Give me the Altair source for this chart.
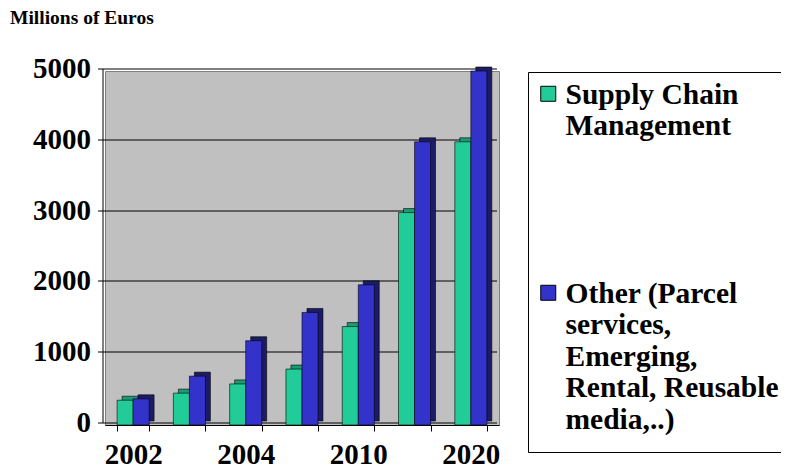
import json
import altair as alt
import pandas as pd

# ---- data ----
years = ["2002", "2003", "2004", "2005", "2010", "2015", "2020"]
shown_years = ["2002", "2004", "2010", "2020"]
series = [
    "Supply Chain Management",
    "Other (Parcel services, Emerging, Rental, Reusable media,..)",
]
scm_values = [350, 450, 580, 790, 1390, 3000, 4000]
other_values = [370, 690, 1190, 1590, 1980, 4000, 5000]
legend_lines = [
    ["Supply Chain", "Management"],
    ["Other (Parcel", "services,", "Emerging,", "Rental, Reusable", "media,..)"],
]
y_ticks = [0, 1000, 2000, 3000, 4000, 5000]

front_colors = ["#22CC99", "#3333CC"]
depth_colors = ["#1C9A74", "#1C1C66"]

df = pd.DataFrame({
    "year": years + years,
    "series": [series[0]] * len(years) + [series[1]] * len(years),
    "value": scm_values + other_values,
})

FONT = "Liberation Serif"

x_label_expr = (
    f"indexof({json.dumps(shown_years)}, datum.label) >= 0 ? datum.label : ''"
)
legend_label_expr = (
    f"datum.label == {json.dumps(series[0])} ? {json.dumps(legend_lines[0])} : "
    f"{json.dumps(legend_lines[1])}"
)

base = alt.Chart(df).encode(
    x=alt.X(
        "year:N",
        sort=years,
        scale=alt.Scale(paddingInner=0.43, paddingOuter=0.215),
        axis=alt.Axis(
            title=None,
            labelAngle=0,
            tickBand="extent",
            labelExpr=x_label_expr,
            labelOverlap=False,
            labelFont=FONT,
            labelFontWeight="bold",
            labelFontSize=29,
            labelColor="black",
            labelPadding=9,
            tickSize=6,
            tickColor="black",
            domainColor="black",
            grid=False,
        ),
    ),
    y=alt.Y(
        "value:Q",
        scale=alt.Scale(domain=[0, 5000], nice=False),
        axis=alt.Axis(
            values=y_ticks,
            format="d",
            labelFont=FONT,
            labelFontWeight="bold",
            labelFontSize=29,
            labelColor="black",
            labelPadding=7,
            tickSize=5,
            tickColor="black",
            domainColor="black",
            grid=True,
            gridColor="black",
            gridWidth=1,
            translate=-2,
            title="Millions of Euros",
            titleAngle=0,
            titleX=-93,
            titleY=-45,
            titleAlign="left",
            titleBaseline="alphabetic",
            titleFont=FONT,
            titleFontSize=19.5,
            titleFontWeight="bold",
            titleColor="black",
        ),
    ),
)

# darker "depth" faces, drawn behind and shifted up/right for the 3-D look
depth = base.mark_bar(
    yOffset=-4, y2Offset=-4, stroke="black", strokeWidth=0.6,
).encode(
    xOffset=alt.XOffset("series:N", sort=series, scale=alt.Scale(range=[5, 37])),
    color=alt.condition(
        alt.datum.series == series[0],
        alt.value(depth_colors[0]),
        alt.value(depth_colors[1]),
    ),
)

front = base.mark_bar(stroke="black", strokeWidth=0.6).encode(
    xOffset=alt.XOffset("series:N", sort=series),
    color=alt.Color(
        "series:N",
        scale=alt.Scale(domain=series, range=front_colors),
        legend=alt.Legend(
            title=None,
            orient="none",
            direction="vertical",
            legendX=423,
            legendY=1,
            padding=17,
            strokeColor="black",
            fillColor="white",
            labelExpr=legend_label_expr,
            labelFont=FONT,
            labelFontWeight="bold",
            labelFontSize=29.5,
            labelColor="black",
            labelBaseline="alphabetic",
            labelLimit=400,
            labelOffset=2.5,
            symbolType="M-1,-2.33L1,-2.33L1,-0.33L-1,-0.33Z",
            symbolSize=225,
            symbolOffset=-11.5,
            symbolStrokeColor="black",
            symbolStrokeWidth=1,
            rowPadding=137,
        ),
    ),
)

chart = (
    alt.layer(depth, front)
    .resolve_scale(xOffset="independent")
    .properties(
        width=394,
        height=354,
        autosize=alt.AutoSizeParams(type="none"),
        padding={"left": 97, "top": 63, "right": 282, "bottom": 45},
    )
    .configure_view(fill="#C0C0C0", stroke="#808080", strokeWidth=1)
)

chart.save("out.html", embed_options={"renderer": "svg", "actions": False})
